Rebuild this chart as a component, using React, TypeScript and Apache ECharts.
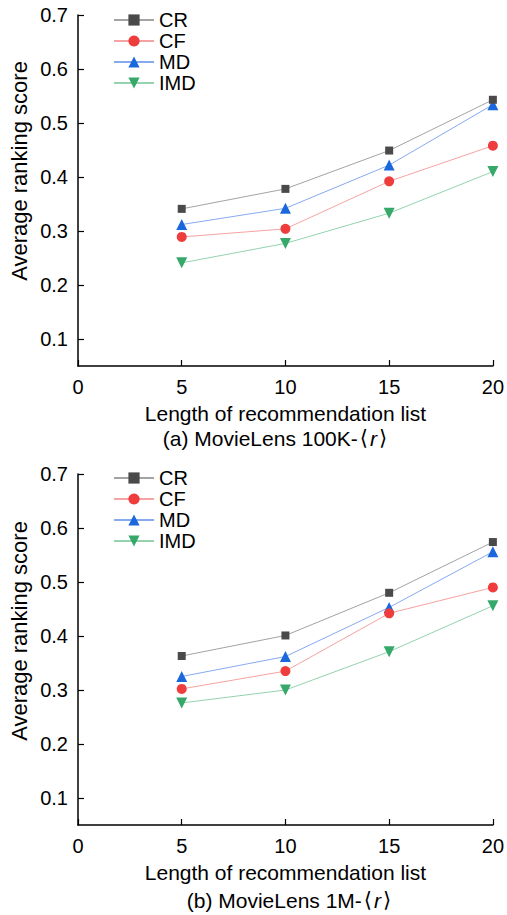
import React, { useEffect, useRef } from "react";
import * as echarts from "echarts";

const xValues = [5, 10, 15, 20];
const seriesNames = ["CR", "CF", "MD", "IMD"];

// (a) MovieLens 100K
const crA = [0.341, 0.378, 0.449, 0.543];
const cfA = [0.289, 0.304, 0.392, 0.458];
const mdA = [0.312, 0.342, 0.422, 0.534];
const imdA = [0.241, 0.277, 0.333, 0.41];

// (b) MovieLens 1M
const crB = [0.363, 0.401, 0.48, 0.574];
const cfB = [0.302, 0.335, 0.442, 0.49];
const mdB = [0.325, 0.362, 0.453, 0.556];
const imdB = [0.276, 0.3, 0.371, 0.456];

const yTicks = [0.1, 0.2, 0.3, 0.4, 0.5, 0.6, 0.7];
const xTicks = [0, 5, 10, 15, 20];

const FONT = "'Liberation Sans', Arial, sans-serif";

const styles = [
  { symbol: "rect", size: 8, marker: "#4a4a4a", line: "#a3a3a3" },
  { symbol: "circle", size: 10, marker: "#ef3d3d", line: "#f5a3a3" },
  { symbol: "triangle", size: 11, marker: "#1b68dd", line: "#86aaf0" },
  { symbol: "path://M0,0 L10,0 L5,9 Z", size: 11, marker: "#36a86a", line: "#94d3ae" },
];

export default function App() {
  const ref = useRef<HTMLDivElement>(null);
  useEffect(() => {
    document.body.style.margin = "0";
    const chart = echarts.init(ref.current!, null, { renderer: "svg" });
    const grids = [
      { left: 78, top: 15, width: 417, height: 351 },
      { left: 78, top: 474, width: 417, height: 351 },
    ];
    const axisLine = { show: true, lineStyle: { color: "#000", width: 1.5 } };
    const xAxes = grids.map((_, i) => ({
      type: "value",
      gridIndex: i,
      min: 0,
      max: 20,
      interval: 5,
      axisLine,
      axisTick: { show: true, inside: true, length: 6, lineStyle: { color: "#000", width: 1.2 }, customValues: xTicks },
      axisLabel: { color: "#000", fontSize: 20, fontFamily: FONT, margin: 11, customValues: xTicks },
      splitLine: { show: false },
      name: "Length of recommendation list",
      nameLocation: "middle",
      nameGap: 37,
      nameTextStyle: { color: "#000", fontSize: 21, fontFamily: FONT },
    }));
    const yAxes = grids.map((_, i) => ({
      type: "value",
      gridIndex: i,
      min: 0.05,
      max: 0.7,
      axisLine,
      axisTick: { show: true, inside: true, length: 6, lineStyle: { color: "#000", width: 1.2 }, customValues: yTicks },
      axisLabel: {
        color: "#000",
        fontSize: 20,
        fontFamily: FONT,
        margin: 10,
        customValues: yTicks,
        formatter: (v: number) => v.toFixed(1),
      },
      splitLine: { show: false },
    }));
    const dataSets = [
      [crA, cfA, mdA, imdA],
      [crB, cfB, mdB, imdB],
    ];
    const series: any[] = [];
    dataSets.forEach((set, gi) => {
      set.forEach((vals, si) => {
        const st = styles[si];
        series.push({
          type: "line",
          name: seriesNames[si],
          xAxisIndex: gi,
          yAxisIndex: gi,
          data: vals.map((v, k) => [xValues[k], v]),
          symbol: st.symbol,
          symbolSize: st.size,
          showAllSymbol: true,
          lineStyle: { color: st.line, width: 1 },
          itemStyle: { color: st.marker },
          z: 10 - si,
        });
      });
    });
    const legendBase = {
      orient: "vertical",
      left: 108,
      itemWidth: 40,
      itemHeight: 14,
      itemGap: 0,
      textStyle: { color: "#000", fontSize: 20, fontFamily: FONT, lineHeight: 21 },
      data: seriesNames,
    };
    const subtitle = (cx: number, cy: number, label: string) => ({
      type: "text",
      x: cx,
      y: cy,
      style: {
        text: `{a|${label}}{b|⟨}{i|r}{b|⟩}`,
        align: "center",
        verticalAlign: "middle",
        rich: {
          a: { fontSize: 21, fontFamily: FONT, fill: "#000" },
          b: { fontSize: 21, fontFamily: "'DejaVu Sans', sans-serif", fill: "#000", padding: [0, 2, 0, 2] },
          i: { fontSize: 21, fontFamily: FONT, fontStyle: "italic", fill: "#000" },
        },
      },
    });
    const yName = (cx: number, cy: number) => ({
      type: "text",
      x: cx,
      y: cy,
      rotation: Math.PI / 2,
      style: {
        text: "Average ranking score",
        align: "center",
        verticalAlign: "middle",
        fontSize: 22,
        fontFamily: FONT,
        fill: "#000",
      },
    });
    chart.setOption({
      animation: false,
      backgroundColor: "#fff",
      grid: grids,
      xAxis: xAxes,
      yAxis: yAxes,
      legend: [
        { ...legendBase, top: 4.5 },
        { ...legendBase, top: 462.5 },
      ],
      series,
      graphic: [
        yName(19, 171),
        yName(19, 631),
        subtitle(276, 438, "(a) MovieLens 100K-"),
        subtitle(290, 900, "(b) MovieLens 1M-"),
      ],
    });
    return () => chart.dispose();
  }, []);
  return <div ref={ref} style={{ width: 507, height: 915 }} />;
}
